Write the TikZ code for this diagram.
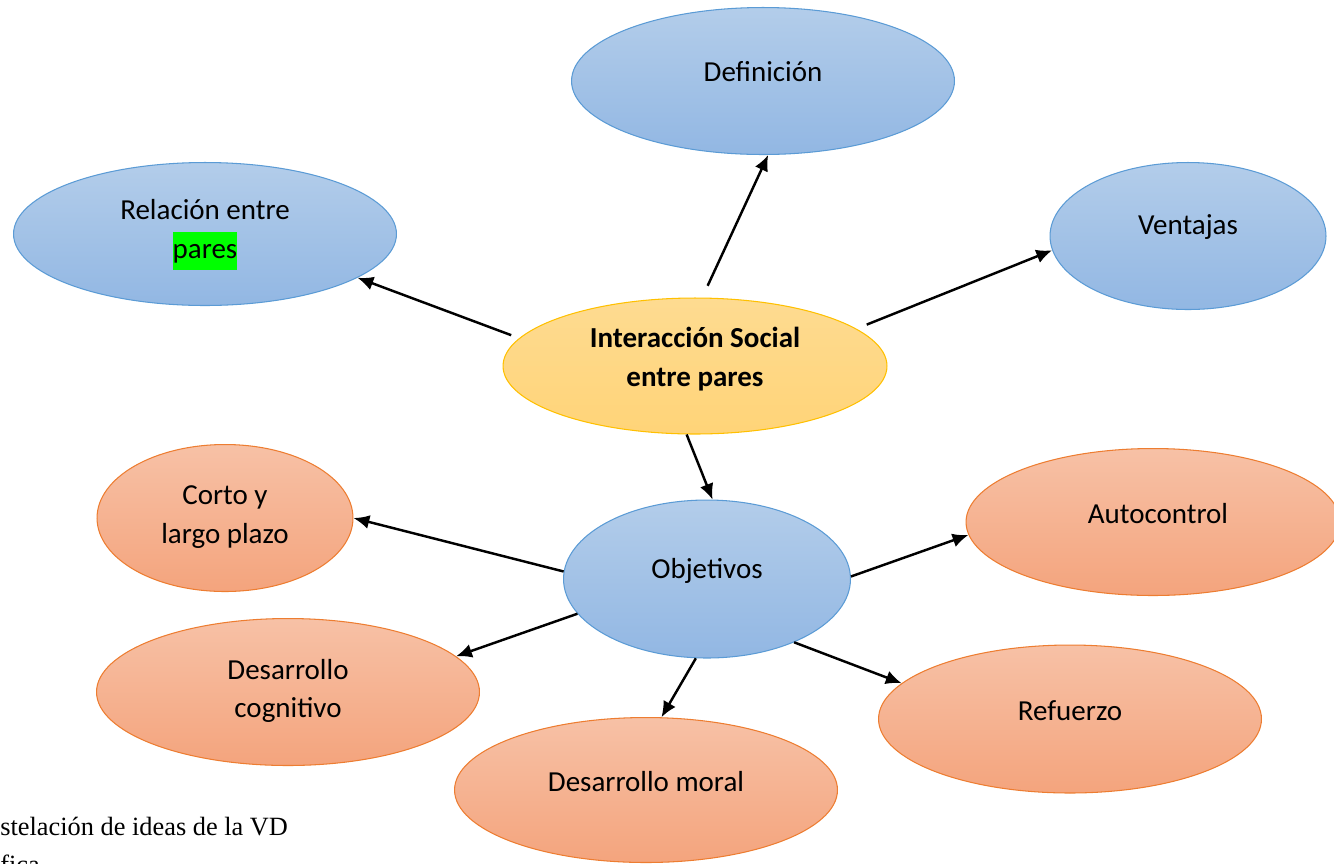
\documentclass[tikz,border=0pt]{standalone}
\usepackage{fontspec}
\setmainfont{Carlito}
\newfontfamily\tnr{Liberation Serif}
\usetikzlibrary{shapes.geometric,arrows.meta}
\definecolor{bluetop}{RGB}{179,205,234}
\definecolor{bluebot}{RGB}{146,183,227}
\definecolor{blueline}{RGB}{91,155,213}
\definecolor{orgtop}{RGB}{247,193,166}
\definecolor{orgbot}{RGB}{244,164,125}
\definecolor{orgline}{RGB}{237,125,49}
\definecolor{yeltop}{RGB}{254,219,145}
\definecolor{yelbot}{RGB}{255,212,120}
\definecolor{yelline}{RGB}{255,192,0}
\definecolor{hl}{RGB}{0,255,0}
\begin{document}
\begin{tikzpicture}[x=0.02cm,y=-0.02cm,
  ell/.style={ellipse,draw,line width=0.6pt,inner sep=0pt},
  blueell/.style={ell,draw=blueline,top color=bluetop,bottom color=bluebot},
  orgell/.style={ell,draw=orgline,top color=orgtop,bottom color=orgbot},
  yelell/.style={ell,draw=yelline,top color=yeltop,bottom color=yelbot},
  lbl/.style={font=\fontsize{16.5}{22}\selectfont,align=center,inner sep=0pt},
  arr/.style={-{Latex[length=9pt,width=8pt]},line width=1.4pt}]
\clip (0,0) rectangle (1334,863);
% ellipses
\node[blueell,minimum width=7.66cm,minimum height=2.94cm] (def) at (763,81) {};
\node[blueell,minimum width=7.66cm,minimum height=2.86cm] (rel) at (205,234) {};
\node[blueell,minimum width=5.52cm,minimum height=2.94cm] (ven) at (1188,236) {};
\node[yelell,minimum width=7.68cm,minimum height=2.72cm] (int) at (695,366) {};
\node[blueell,minimum width=5.74cm,minimum height=3.16cm] (obj) at (707,579) {};
\node[orgell,minimum width=5.12cm,minimum height=2.94cm] (corto) at (225,518) {};
\node[orgell,minimum width=7.48cm,minimum height=2.94cm] (auto) at (1153,522) {};
\node[orgell,minimum width=7.66cm,minimum height=2.94cm] (cog) at (288,692) {};
\node[orgell,minimum width=7.66cm,minimum height=2.96cm] (ref) at (1070,719) {};
\node[orgell,minimum width=7.66cm,minimum height=2.90cm] (moral) at (646,790) {};
% labels
\node[lbl] (deft) at (763,72) {Definición};
\node[lbl] (relt) at (205,235) {Relación entre\\{\fboxsep=0pt\colorbox{hl}{\strut pares}}};
\node[lbl] (vent) at (1188,227) {Ventajas};
\node[lbl,font=\fontsize{16.5}{22}\selectfont\bfseries] (intt) at (695,359) {Interacción Social\\entre pares};
\node[lbl] (objt) at (707,571) {Objetivos};
\node[lbl] (cortot) at (225,517) {Corto y\\largo plazo};
\node[lbl] (autot) at (1158,514) {Autocontrol};
\node[lbl] (cogt) at (288,691) {Desarrollo\\cognitivo};
\node[lbl] (reft) at (1070,711) {Refuerzo};
\node[lbl] (moralt) at (646,782) {Desarrollo moral};
% connectors
\draw[arr,shorten <=0.26cm] (int.84) -- (def.-86);
\draw[arr,shorten <=0.17cm] (int.171) -- (rel.-16);
\draw[arr,shorten <=0.22cm] (int.13) -- (ven.186);
\draw[arr] (int.-97) -- (obj.86);
\draw[arr] (obj.177) -- (corto.0);
\draw[arr] (obj.1) -- (auto.184);
\draw[arr] (obj.-165) -- (cog.12);
\draw[arr] (obj.-98) -- (moral.78);
\draw[arr] (obj.-36) -- (ref.168);
% caption
\node[anchor=base west,inner sep=0pt,font=\tnr\fontsize{15}{18}\selectfont] (cap1) at (0,835) {stelación de ideas de la VD};
\node[anchor=base west,inner sep=0pt,font=\tnr\fontsize{15}{18}\selectfont] (cap2) at (0,873) {fica};
\end{tikzpicture}
\end{document}
